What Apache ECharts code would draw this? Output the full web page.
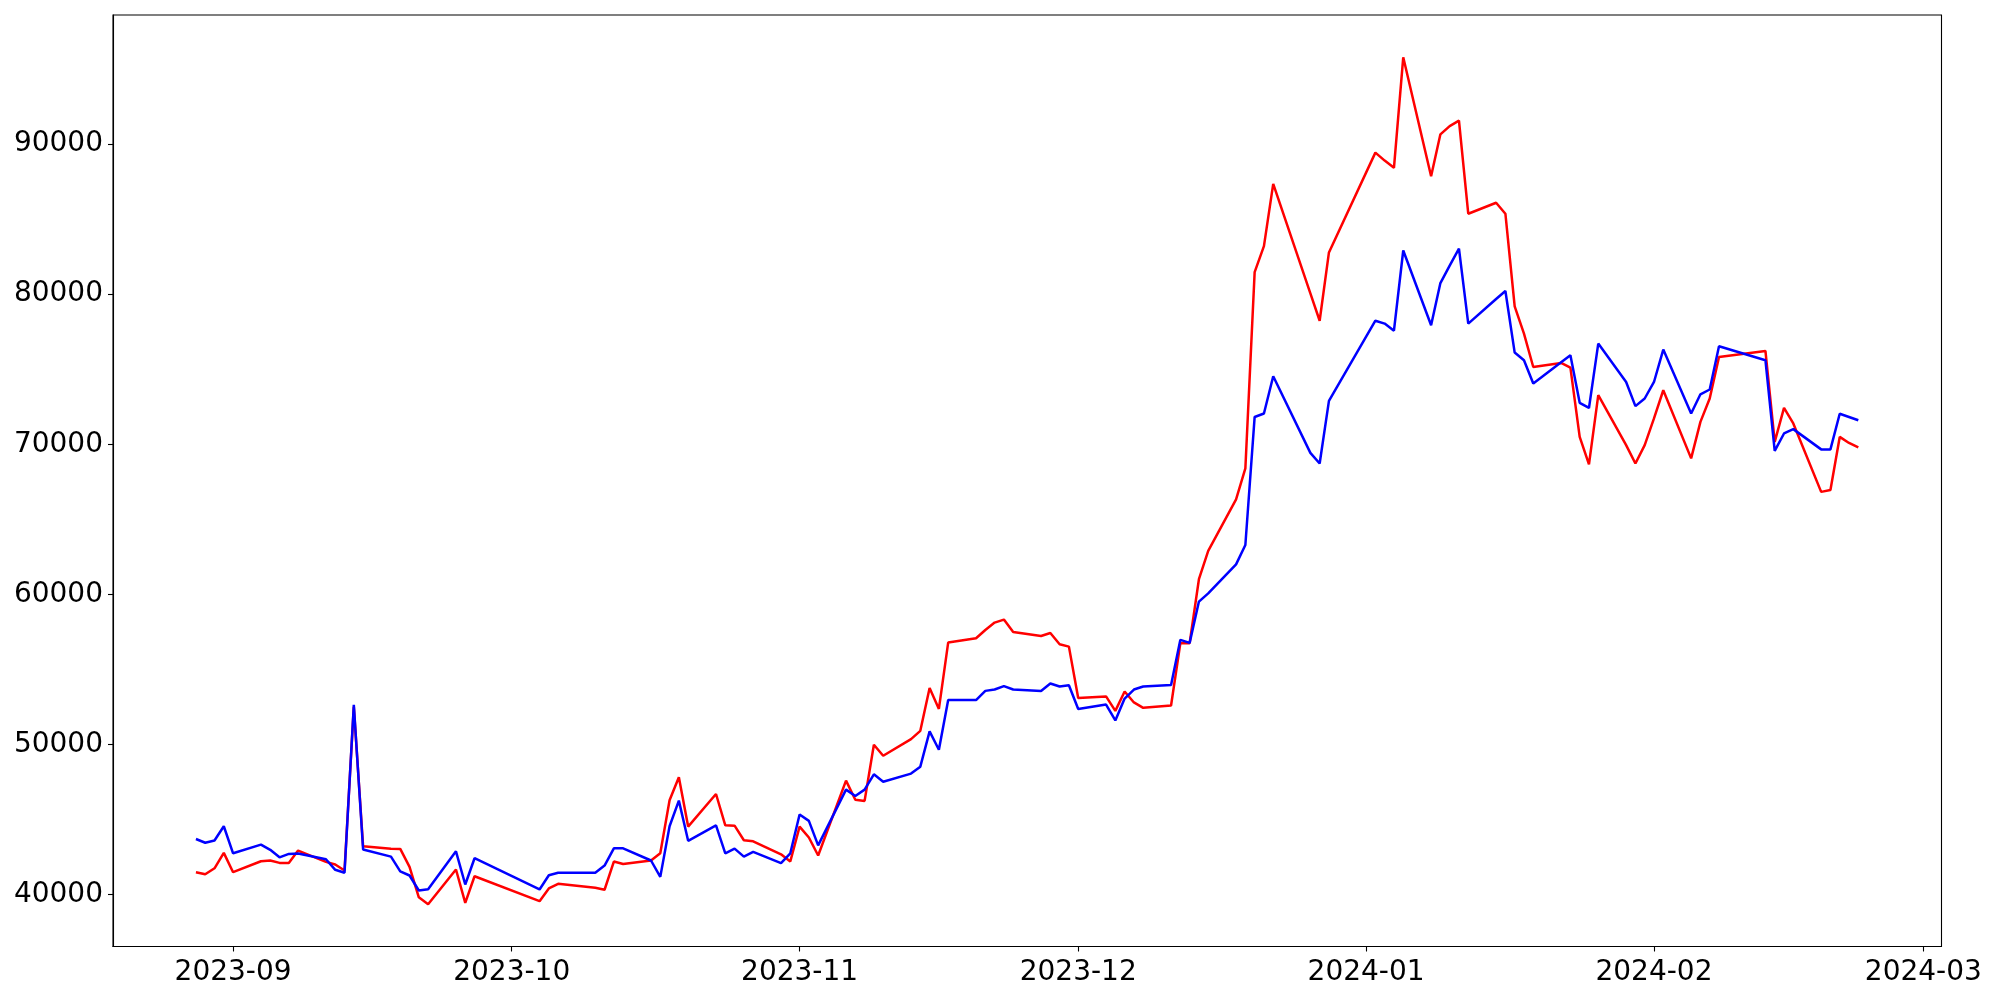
<!DOCTYPE html>
<html>
<head>
<meta charset="utf-8">
<script src="https://cdn.jsdelivr.net/npm/echarts@6/dist/echarts.min.js"></script>
<style>html,body{margin:0;padding:0;background:#fff}#c{width:2000px;height:1000px}</style>
</head>
<body>
<div id="c"></div>
<script>
const dates = ['2023-08-28','2023-08-29','2023-08-30','2023-08-31','2023-09-01','2023-09-04','2023-09-05','2023-09-06','2023-09-07','2023-09-08','2023-09-11','2023-09-12','2023-09-13','2023-09-14','2023-09-15','2023-09-18','2023-09-19','2023-09-20','2023-09-21','2023-09-22','2023-09-25','2023-09-26','2023-09-27','2023-10-04','2023-10-05','2023-10-06','2023-10-10','2023-10-11','2023-10-12','2023-10-13','2023-10-16','2023-10-17','2023-10-18','2023-10-19','2023-10-20','2023-10-23','2023-10-24','2023-10-25','2023-10-26','2023-10-27','2023-10-30','2023-10-31','2023-11-01','2023-11-02','2023-11-03','2023-11-06','2023-11-07','2023-11-08','2023-11-09','2023-11-10','2023-11-13','2023-11-14','2023-11-15','2023-11-16','2023-11-17','2023-11-20','2023-11-21','2023-11-22','2023-11-23','2023-11-24','2023-11-27','2023-11-28','2023-11-29','2023-11-30','2023-12-01','2023-12-04','2023-12-05','2023-12-06','2023-12-07','2023-12-08','2023-12-11','2023-12-12','2023-12-13','2023-12-14','2023-12-15','2023-12-18','2023-12-19','2023-12-20','2023-12-21','2023-12-22','2023-12-26','2023-12-27','2023-12-28','2024-01-02','2024-01-03','2024-01-04','2024-01-05','2024-01-08','2024-01-09','2024-01-10','2024-01-11','2024-01-12','2024-01-15','2024-01-16','2024-01-17','2024-01-18','2024-01-19','2024-01-22','2024-01-23','2024-01-24','2024-01-25','2024-01-26','2024-01-29','2024-01-30','2024-01-31','2024-02-01','2024-02-02','2024-02-05','2024-02-06','2024-02-07','2024-02-08','2024-02-13','2024-02-14','2024-02-15','2024-02-16','2024-02-19','2024-02-20','2024-02-21','2024-02-22','2024-02-23'];

const redValues = [41490,41350,41750,42780,41490,42220,42270,42110,42110,42930,42180,42000,41600,52500,43220,43060,43040,41850,39820,39360,41670,39450,41220,39560,40410,40715,40450,40320,42200,42040,42270,42750,46280,47810,44530,46700,44610,44590,43620,43550,42680,42200,44530,43800,42600,47590,46320,46240,49980,49250,50360,50910,53760,52370,56790,57080,57630,58120,58320,57500,57230,57430,56680,56520,53090,53200,52240,53530,52800,52440,52600,56750,56750,61010,62900,66330,68390,81470,83200,87350,80050,78230,82780,89430,88900,88420,95780,87860,90650,91200,91560,85360,86090,85360,79190,77370,75150,75420,75110,70490,68660,73270,69940,68720,69940,71720,73600,69060,71490,73050,75820,76220,70160,72420,71390,66830,66950,70490,70090,69790];

const blueValues = [43700,43450,43600,44550,42750,43330,42980,42480,42710,42730,42350,41650,41450,52640,43000,42530,41550,41270,40270,40360,42880,40670,42420,40340,41290,41450,41450,41930,43080,43080,42270,41180,44550,46260,43580,44610,42750,43060,42530,42840,42090,42750,45330,44910,43280,46990,46570,46990,48010,47520,48060,48520,50870,49650,52960,52960,53570,53660,53890,53660,53560,54060,53860,53950,52360,52660,51600,53060,53660,53860,53970,56970,56770,59520,60070,62000,63290,71820,72050,74530,69430,68720,72890,78230,78040,77570,82910,77930,80740,81900,83030,78040,79680,80210,76110,75600,74050,75460,75930,72760,72420,76710,74150,72540,73050,74150,76310,72050,73330,73650,76530,75600,69560,70720,71010,69660,69660,72030,71820,71600];

const yTickValues = [40000,50000,60000,70000,80000,90000];
const xTickLabels = ['2023-09','2023-10','2023-11','2023-12','2024-01','2024-02','2024-03'];

function ts(s) { const p = s.split('-').map(Number); return new Date(p[0], p[1] - 1, p[2] || 1).getTime(); }
const xTickValues = xTickLabels.map(ts);
const xMin = new Date(2023, 7, 19, 1, 40).getTime();
const xMax = new Date(2024, 2, 2, 23, 0).getTime();

const font = { fontFamily: 'DejaVu Sans', fontSize: 28, color: '#000' };
const chart = echarts.init(document.getElementById('c'), null, { renderer: 'canvas' });
chart.setOption({
  animation: false,
  backgroundColor: '#fff',
  grid: { left: 113, right: 58.5, top: 15, bottom: 53.5, show: true, borderColor: '#000', borderWidth: 1.1, backgroundColor: 'transparent', outerBoundsMode: 'none', containLabel: false },
  xAxis: {
    type: 'value', min: xMin, max: xMax, scale: true,
    axisLine: { show: true, lineStyle: { color: '#000', width: 1.1 } },
    axisTick: { show: true, length: 5, lineStyle: { color: '#000', width: 1.1 }, customValues: xTickValues },
    axisLabel: Object.assign({ margin: 12, customValues: xTickValues, hideOverlap: false, formatter: v => { const d = new Date(v); return d.getFullYear() + '-' + String(d.getMonth() + 1).padStart(2, '0'); } }, font),
    splitLine: { show: false }
  },
  yAxis: {
    type: 'value', min: 36540, max: 98600,
    axisLine: { show: true, lineStyle: { color: '#000', width: 1.1 } },
    axisTick: { show: true, length: 5, lineStyle: { color: '#000', width: 1.1 }, customValues: yTickValues },
    axisLabel: Object.assign({ margin: 10, customValues: yTickValues, formatter: v => String(v) }, font),
    splitLine: { show: false }
  },
  series: [
    { type: 'line', data: dates.map((d, i) => [ts(d), redValues[i]]), showSymbol: false, symbol: 'none', lineStyle: { color: '#ff0000', width: 2.5 }, itemStyle: { color: '#ff0000' }, z: 2 },
    { type: 'line', data: dates.map((d, i) => [ts(d), blueValues[i]]), showSymbol: false, symbol: 'none', lineStyle: { color: '#0000ff', width: 2.5 }, itemStyle: { color: '#0000ff' }, z: 3 }
  ]
});
</script>
</body>
</html>
